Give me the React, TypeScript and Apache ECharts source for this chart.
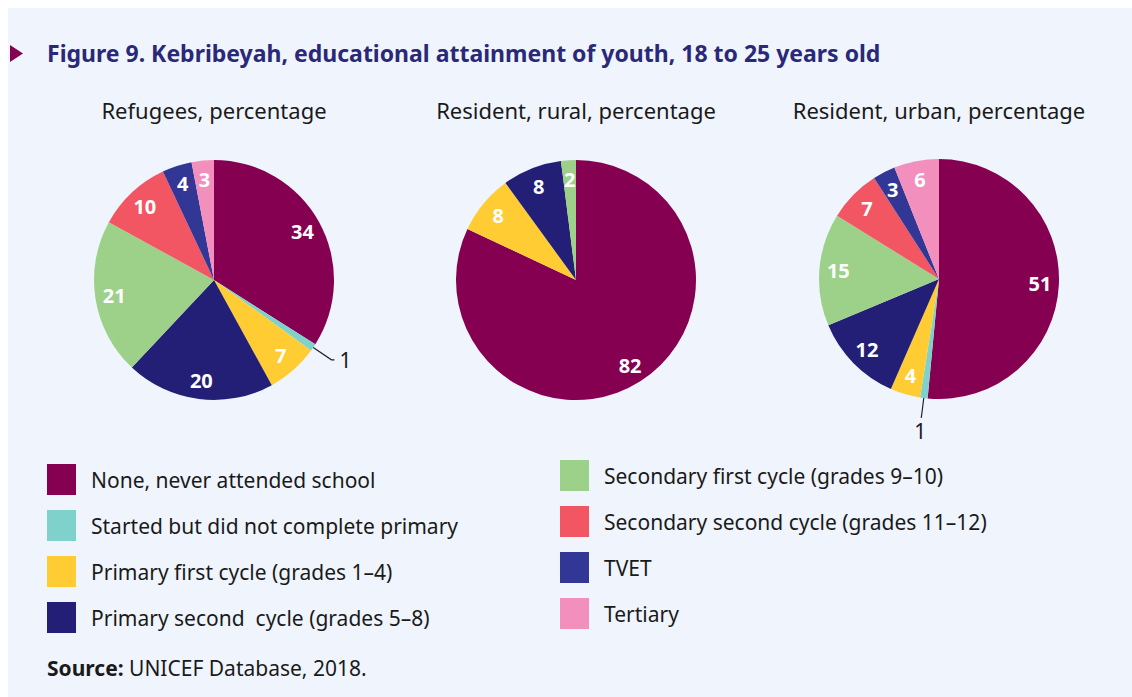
import React, { useEffect, useRef } from "react";
import * as echarts from "echarts";

const CATEGORIES = [
  "None, never attended school",
  "Started but did not complete primary",
  "Primary first cycle (grades 1–4)",
  "Primary second  cycle (grades 5–8)",
  "Secondary first cycle (grades 9–10)",
  "Secondary second cycle (grades 11–12)",
  "TVET",
  "Tertiary",
];
const REFUGEES = [34, 1, 7, 20, 21, 10, 4, 3];
const RURAL = [82, 0, 8, 8, 2, 0, 0, 0];
const URBAN = [51, 1, 4, 12, 15, 7, 3, 6];
const PIE_TITLES = ["Refugees, percentage", "Resident, rural, percentage", "Resident, urban, percentage"];
const COLORS = ["#850050", "#7fd1cb", "#ffcd33", "#231f76", "#9dd18a", "#f15662", "#323695", "#f38fbd"];

const FONT = '"Noto Sans", "Open Sans", sans-serif';
const CENTERS: [number, number][] = [[214, 280], [576, 280], [939, 279]];
const R = 120;

export default function App() {
  const ref = useRef<HTMLDivElement>(null);
  useEffect(() => {
    document.body.style.margin = "0";
    const chart = echarts.init(ref.current!, undefined, { renderer: "svg" });
    const sets = [REFUGEES, RURAL, URBAN];
    const series: any[] = [];
    sets.forEach((vals, si) => {
      series.push({
        type: "pie",
        center: CENTERS[si],
        radius: [0, R],
        startAngle: 90,
        clockwise: true,
        silent: true,
        label: { show: false },
        labelLine: { show: false },
        data: vals.map((v, i) => ({ name: CATEGORIES[i], value: v, itemStyle: { color: COLORS[i] } })),
      });
      const below = si === 2;
      series.push({
        type: "pie",
        center: CENTERS[si],
        radius: [76, R],
        startAngle: 90,
        clockwise: true,
        silent: true,
        z: 3,
        itemStyle: { color: "rgba(0,0,0,0)" },
        label: {
          show: true,
          position: "inside",
          color: "#ffffff",
          fontFamily: FONT,
          fontWeight: "bold",
          fontSize: 20,
          formatter: "{c}",
        },
        labelLine: { show: false },
        labelLayout: below
          ? (p: any) => (p.dataIndex === 1 ? { dx: 10, dy: 13 } : {})
          : undefined,
        data: vals.map((v, i) => {
          const item: any = { name: CATEGORIES[i], value: v };
          if (v === 0) item.label = { show: false };
          else if (v === 1) {
            item.label = {
              show: true,
              position: "outside",
              color: "#1a1a1a",
              fontWeight: "normal",
              fontSize: 21,
              formatter: "{c}",
            };
            item.labelLine = {
              show: true,
              length: below ? 20 : 22,
              length2: below ? 0 : 3,
              lineStyle: { color: "#222", width: 1.2 },
            };
          }
          return item;
        }),
      });
    });

    const legendBase = {
      orient: "vertical",
      icon: "rect",
      itemWidth: 29,
      itemHeight: 31,
      itemGap: 15,
      selectedMode: false,
      textStyle: { fontFamily: FONT, fontSize: 21, color: "#1a1a1a", padding: [0, 0, 0, 10] },
    };

    chart.setOption({
      animation: false,
      backgroundColor: "#ffffff",
      legend: [
        {
          ...legendBase,
          left: 42,
          top: 459,
          data: CATEGORIES.slice(0, 4).map((n, i) => ({ name: n, itemStyle: { color: COLORS[i] } })),
        },
        {
          ...legendBase,
          left: 555,
          top: 455,
          data: CATEGORIES.slice(4).map((n, i) => ({ name: n, itemStyle: { color: COLORS[i + 4] } })),
        },
      ],
      graphic: [
        { type: "rect", z: -10, shape: { x: 8, y: 8, width: 1124, height: 689 }, style: { fill: "#f0f5fd" } },
        { type: "polygon", shape: { points: [[10, 45], [23, 53.5], [10, 62]] }, style: { fill: "#850050" } },
        {
          type: "text",
          x: 47,
          y: 53,
          style: {
            text: "Figure 9. Kebribeyah, educational attainment of youth, 18 to 25 years old",
            font: `bold 23px ${FONT}`,
            fill: "#2a2878",
            verticalAlign: "middle",
          },
        },
        ...PIE_TITLES.map((t, i) => ({
          type: "text",
          x: CENTERS[i][0],
          y: 110,
          style: { text: t, font: `22px ${FONT}`, fill: "#1a1a1a", align: "center", verticalAlign: "middle" },
        })),
        {
          type: "text",
          x: 47,
          y: 668,
          style: {
            text: "{b|Source:} UNICEF Database, 2018.",
            font: `21px ${FONT}`,
            fill: "#1a1a1a",
            verticalAlign: "middle",
            rich: { b: { fontWeight: "bold", fontFamily: FONT, fontSize: 21, fill: "#1a1a1a" } },
          },
        },
      ],
      series,
    });
    return () => chart.dispose();
  }, []);
  return <div ref={ref} style={{ width: 1132, height: 697 }} />;
}
